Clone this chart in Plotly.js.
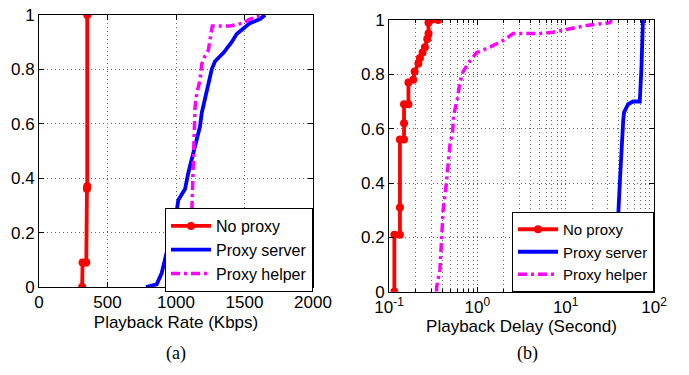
<!DOCTYPE html>
<html><head><meta charset="utf-8">
<script src="https://cdn.plot.ly/plotly-3.0.1.min.js"></script>
<style>html,body{margin:0;padding:0;background:#fff}#chart{width:689px;height:375px}</style>
</head><body><div id="chart"></div>
<script>
// (a) Playback rate CDF (Kbps)
const rateNoProxyX = [315, 318, 340, 345, 350, 352, 352];
const rateNoProxyY = [0, 0.09, 0.09, 0.09, 0.36, 0.37, 1.0];
const rateServerX = [781, 859, 895, 1005, 1017, 1066, 1090, 1122, 1151, 1175, 1188, 1212, 1248, 1261, 1285, 1345, 1406, 1443, 1492, 1540, 1613, 1650];
const rateServerY = [0, 0.01, 0.05, 0.28, 0.32, 0.36, 0.42, 0.48, 0.54, 0.59, 0.64, 0.69, 0.76, 0.80, 0.83, 0.86, 0.90, 0.93, 0.95, 0.97, 0.985, 1.0];
const rateHelperX = [1010, 1105, 1112, 1119, 1127, 1139, 1151, 1175, 1188, 1212, 1236, 1248, 1265, 1394, 1492, 1540, 1637];
const rateHelperY = [0, 0.1, 0.22, 0.35, 0.49, 0.66, 0.71, 0.76, 0.82, 0.85, 0.87, 0.91, 0.96, 0.96, 0.97, 0.985, 1.0];
// (b) Playback delay CDF (seconds)
const delayNoProxyX = [0.115, 0.115, 0.133, 0.133, 0.133, 0.148, 0.148, 0.148, 0.166, 0.166, 0.188, 0.195, 0.215, 0.224, 0.24, 0.255, 0.271, 0.28, 0.28, 0.36];
const delayNoProxyY = [0, 0.21, 0.21, 0.31, 0.56, 0.56, 0.62, 0.69, 0.69, 0.77, 0.78, 0.81, 0.84, 0.86, 0.88, 0.90, 0.93, 0.95, 0.99, 1.0];
const delayServerX = [25.5, 39.3, 41, 42.8, 44.8, 45.8, 50.9, 58, 69, 72, 75, 75];
const delayServerY = [0, 0.276, 0.40, 0.54, 0.63, 0.66, 0.69, 0.70, 0.70, 0.82, 0.94, 1.0];
const delayHelperX = [0.345, 0.347, 0.377, 0.396, 0.41, 0.442, 0.469, 0.49, 0.525, 0.54, 0.593, 0.636, 0.69, 0.789, 0.98, 1.39, 1.96, 2.55, 5.1, 7.2, 10.2, 17.2, 31.6, 33];
const delayHelperY = [0, 0.02, 0.08, 0.2, 0.3, 0.386, 0.47, 0.54, 0.59, 0.65, 0.71, 0.77, 0.81, 0.84, 0.88, 0.90, 0.925, 0.95, 0.95, 0.955, 0.965, 0.98, 0.99, 1.0];

const seriesNames = ['No proxy', 'Proxy server', 'Proxy helper'];
const yTicks = [0, 0.2, 0.4, 0.6, 0.8, 1];
const yTickText = ['0', '0.2', '0.4', '0.6', '0.8', '1'];
const rateTicks = [0, 500, 1000, 1500, 2000];
const delayTicks = [0.1, 1, 10, 100];
const delayTickText = ['10<sup>-1</sup>', '10<sup>0</sup>', '10<sup>1</sup>', '10<sup>2</sup>'];

const RED = '#ff0000', BLUE = '#0000ff', MAG = '#ff00ff';
const dashDot = '9px,4px,3px,4px';
const FONT = '"Liberation Sans", Arial, Helvetica, sans-serif';
const FS = 17;

function mk(x, y, i, xa, ya, leg) {
  const base = {x: x, y: y, name: seriesNames[i], xaxis: xa, yaxis: ya, legend: leg, type: 'scatter'};
  if (i === 0) return Object.assign(base, {mode: 'lines+markers', line: {color: RED, width: 3.8}, marker: {color: RED, size: 8}});
  if (i === 1) return Object.assign(base, {mode: 'lines', line: {color: BLUE, width: 3.8}});
  return Object.assign(base, {mode: 'lines', line: {color: MAG, width: 3.5, dash: dashDot}});
}

const data = [
  mk(rateNoProxyX, rateNoProxyY, 0, 'x', 'y', 'legend'),
  mk(rateServerX, rateServerY, 1, 'x', 'y', 'legend'),
  mk(rateHelperX, rateHelperY, 2, 'x', 'y', 'legend'),
  mk(delayNoProxyX, delayNoProxyY, 0, 'x2', 'y2', 'legend2'),
  mk(delayServerX, delayServerY, 1, 'x2', 'y2', 'legend2'),
  mk(delayHelperX, delayHelperY, 2, 'x2', 'y2', 'legend2')
];

const axCommon = {
  showline: true, linecolor: '#000', linewidth: 1, mirror: 'ticks',
  ticks: 'inside', ticklen: 5, tickcolor: '#000',
  showgrid: true, gridcolor: '#666', griddash: '1px,3px', gridwidth: 1,
  zeroline: false, tickfont: {family: FONT, size: FS, color: '#000'}
};

const legCommon = {
  bgcolor: '#fff', bordercolor: '#000', borderwidth: 1,
  xref: 'paper', yref: 'paper', xanchor: 'right', yanchor: 'bottom',
  tracegroupgap: 0, itemwidth: 40
};

const layout = {
  width: 689, height: 375,
  margin: {l: 0, r: 0, t: 0, b: 0},
  paper_bgcolor: '#fff', plot_bgcolor: '#fff',
  showlegend: true,
  xaxis: Object.assign({}, axCommon, {
    domain: [39/689, 313/689], range: [0, 2000], tickvals: rateTicks, anchor: 'y',
    title: {text: 'Playback Rate (Kbps)', font: {family: FONT, size: FS, color: '#000'}, standoff: 4}
  }),
  yaxis: Object.assign({}, axCommon, {
    domain: [(375-287)/375, (375-15)/375], range: [0, 1], tickvals: yTicks, ticktext: yTickText, anchor: 'x'
  }),
  xaxis2: Object.assign({}, axCommon, {
    type: 'log', domain: [389/689, 654/689], range: [-1, 2], tickvals: delayTicks, ticktext: delayTickText, anchor: 'y2',
    minor: {dtick: 'D1', showgrid: true, gridcolor: '#666', griddash: '1px,3px', gridwidth: 1, ticks: 'inside', ticklen: 3, tickcolor: '#000'},
    title: {text: 'Playback Delay (Second)', font: {family: FONT, size: FS, color: '#000'}, standoff: 2}
  }),
  yaxis2: Object.assign({}, axCommon, {
    domain: [(375-291.7)/375, (375-20)/375], range: [0, 1], tickvals: yTicks, ticktext: yTickText, anchor: 'x2'
  }),
  legend: Object.assign({}, legCommon, {x: 313/689, y: (375-292)/375, font: {family: FONT, size: 16, color: '#000'}}),
  legend2: Object.assign({}, legCommon, {x: 654/689, y: (375-292)/375, font: {family: FONT, size: 15, color: '#000'}}),
  annotations: [
    {text: '(a)', xref: 'paper', yref: 'paper', x: 176/689, y: (375-353)/375, xanchor: 'center', yanchor: 'middle', showarrow: false, font: {family: '"Liberation Serif", "Times New Roman", serif', size: 18, color: '#000'}},
    {text: '(b)', xref: 'paper', yref: 'paper', x: 527/689, y: (375-353)/375, xanchor: 'center', yanchor: 'middle', showarrow: false, font: {family: '"Liberation Serif", "Times New Roman", serif', size: 18, color: '#000'}}
  ]
};

Plotly.newPlot('chart', data, layout, {displayModeBar: false, staticPlot: true});
</script></body></html>
